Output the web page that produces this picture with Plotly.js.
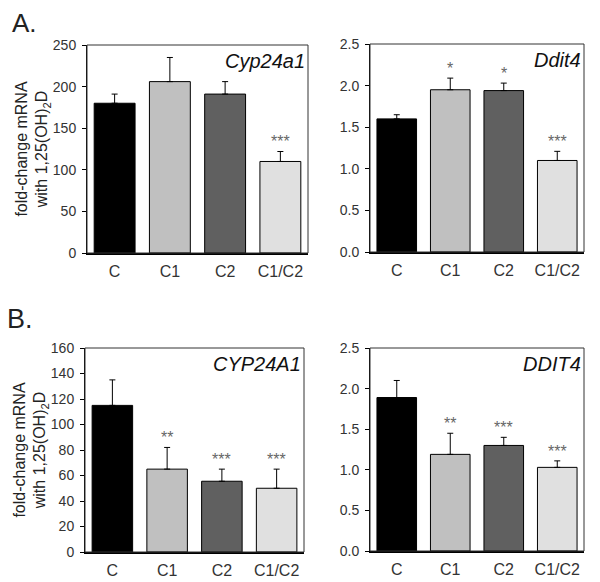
<!DOCTYPE html>
<html>
<head>
<meta charset="utf-8">
<script src="https://cdn.plot.ly/plotly-3.0.1.min.js"></script>
<style>html,body{margin:0;padding:0;background:#fff;}#chart{width:600px;height:582px;}</style>
</head>
<body>
<div id="chart"></div>
<script>
// ---- data ----
const categories = ['C', 'C1', 'C2', 'C1/C2'];
const barColors = ['#000000', '#c0c0c0', '#606060', '#e0e0e0'];

const cypMouse = [180, 206, 191, 110];
const cypMouseErr = [11, 29, 15, 12];
const cypMouseSig = ['', '', '', '***'];

const dditMouse = [1.60, 1.95, 1.94, 1.10];
const dditMouseErr = [0.05, 0.14, 0.09, 0.11];
const dditMouseSig = ['', '*', '*', '***'];

const cypHuman = [115, 65, 55.5, 50];
const cypHumanErr = [20, 17, 9.5, 15];
const cypHumanSig = ['', '**', '***', '***'];

const dditHuman = [1.89, 1.19, 1.30, 1.03];
const dditHumanErr = [0.21, 0.26, 0.10, 0.08];
const dditHumanSig = ['', '**', '***', '***'];

const geneLabels = ['Cyp24a1', 'Ddit4', 'CYP24A1', 'DDIT4'];
const panelLabels = ['A.', 'B.'];
const yTitle = 'fold-change mRNA<br>with 1,25(OH)<sub>2</sub>D';

// ---- build ----
const panels = [
  {vals: cypMouse, err: cypMouseErr, sig: cypMouseSig, gene: geneLabels[0], bold: true,
   range: [0, 250], dtick: 50, fmt: 'd', xd: [87/600, 308/600], yd: [1-253/582, 1-45/582], title: true},
  {vals: dditMouse, err: dditMouseErr, sig: dditMouseSig, gene: geneLabels[1], bold: true,
   range: [0, 2.5], dtick: 0.5, fmt: '.1f', xd: [370/600, 584/600], yd: [1-252/582, 1-44/582], title: false},
  {vals: cypHuman, err: cypHumanErr, sig: cypHumanSig, gene: geneLabels[2], bold: false,
   range: [0, 160], dtick: 20, fmt: 'd', xd: [85/600, 304/600], yd: [1-552/582, 1-348/582], title: true},
  {vals: dditHuman, err: dditHumanErr, sig: dditHumanSig, gene: geneLabels[3], bold: false,
   range: [0, 2.5], dtick: 0.5, fmt: '.1f', xd: [370/600, 584/600], yd: [1-551/582, 1-348/582], title: false}
];

const font = 'Liberation Sans, Arial, sans-serif';
const data = [];
const layout = {
  width: 600, height: 582,
  margin: {l: 0, r: 0, t: 0, b: 0},
  paper_bgcolor: '#ffffff', plot_bgcolor: '#ffffff',
  showlegend: false,
  bargap: 0.26,
  font: {family: font, color: '#333333'},
  annotations: [], shapes: []
};

panels.forEach((p, i) => {
  const n = i + 1;
  const xa = n === 1 ? 'x' : 'x' + n;
  const ya = n === 1 ? 'y' : 'y' + n;
  data.push({
    type: 'bar', x: categories, y: p.vals, xaxis: xa, yaxis: ya,
    marker: {color: barColors, line: {color: '#000000', width: 1}},
    error_y: {type: 'data', symmetric: false, array: p.err, arrayminus: p.err.map(() => 0),
              color: '#000000', thickness: 1, width: 3},
    hoverinfo: 'x+y'
  });
  layout['xaxis' + (n === 1 ? '' : n)] = {
    domain: p.xd, anchor: ya, showline: true, linecolor: '#000000', linewidth: 1.5,
    ticks: '', showgrid: false, zeroline: false,
    tickfont: {family: font, size: 16, color: '#333333'}, ticklabelstandoff: 3, fixedrange: true
  };
  const yax = {
    domain: p.yd, anchor: xa, range: p.range, dtick: p.dtick, tick0: 0, tickformat: p.fmt,
    showline: true, linecolor: '#000000', linewidth: 1, ticks: 'outside', ticklen: 4, tickcolor: '#000000',
    showgrid: false, zeroline: false,
    tickfont: {family: font, size: 14, color: '#333333'}, ticklabelstandoff: 3, fixedrange: true
  };
  if (p.title) yax.title = {text: yTitle, font: {family: font, size: 16, color: '#222222'}, standoff: 0};
  layout['yaxis' + (n === 1 ? '' : n)] = yax;
  layout.shapes.push({type: 'rect', xref: xa + ' domain', yref: ya + ' domain', x0: 0, x1: 1, y0: 0, y1: 1,
    line: {color: '#333333', width: 1}, fillcolor: 'rgba(0,0,0,0)', layer: 'above'});
  layout.annotations.push({xref: xa + ' domain', yref: ya + ' domain', x: 1, y: 1, xanchor: 'right', yanchor: 'top',
    xshift: -1, yshift: -3, showarrow: false, text: p.gene,
    font: {family: font, size: 20, style: 'italic', color: '#111111'}});
  categories.forEach((c, k) => {
    if (p.sig[k]) {
      layout.annotations.push({xref: xa, yref: ya, x: c, y: p.vals[k] + p.err[k], xanchor: 'center', yanchor: 'bottom',
        yshift: -1, showarrow: false, text: p.sig[k], font: {family: font, size: 16, color: '#666666'}});
    }
  });
});

layout.annotations.push({xref: 'paper', yref: 'paper', x: 10/600, y: 1-6/582, xanchor: 'left', yanchor: 'top',
  showarrow: false, text: panelLabels[0], font: {family: font, size: 26, color: '#222222'}});
layout.annotations.push({xref: 'paper', yref: 'paper', x: 5/600, y: 1-302/582, xanchor: 'left', yanchor: 'top',
  showarrow: false, text: panelLabels[1], font: {family: font, size: 27, color: '#222222'}});

Plotly.newPlot('chart', data, layout, {displayModeBar: false, staticPlot: true});
</script>
</body>
</html>
